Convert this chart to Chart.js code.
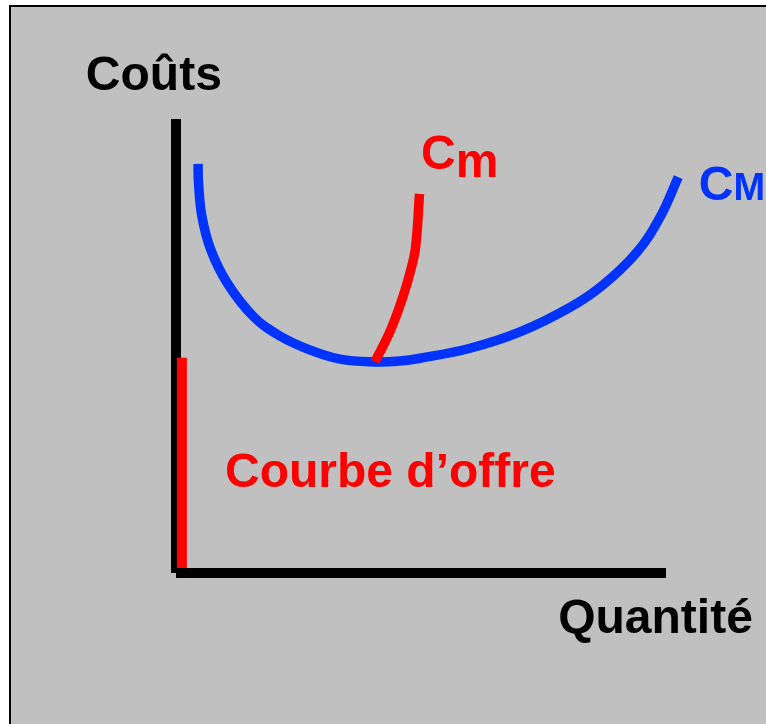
<!DOCTYPE html>
<html>
<head>
<meta charset="utf-8">
<script src="https://cdn.jsdelivr.net/npm/chart.js@4.4.1/dist/chart.umd.min.js"></script>
<style>
  html, body { margin: 0; padding: 0; background: #ffffff; overflow: hidden; }
  #frame {
    position: absolute; left: 9px; top: 5px;
    width: 800px; height: 760px;
    background: #c0c0c0; border: 2px solid #000;
  }
  #wrap { position: absolute; left: 0; top: 0; width: 766px; height: 724px; }
</style>
</head>
<body>
<div id="frame"></div>
<div id="wrap"><canvas id="chart"></canvas></div>

<script>
  // Courbe du coût moyen (CM) : quantité, coût
  const cmQty  = [4.5, 4.6, 5.3, 7.1, 10.5, 15.8, 21.2, 27.4, 33.5, 40.6, 45.7, 49.8, 60.0, 70.2, 80.4, 87.1, 94.1, 98.8, 102.5];
  const cmCost = [90.1, 85.8, 78.5, 71.2, 63.8, 56.5, 52.2, 49.1, 47.1, 46.5, 46.7, 47.3, 49.5, 53.1, 58.5, 63.4, 70.7, 78.4, 87.2];

  // Courbe du coût marginal (Cm)
  const cmgQty  = [40.6, 43.8, 46.3, 47.9, 48.9, 49.7];
  const cmgCost = [46.5, 53.5, 60.8, 66.7, 71.8, 83.5];

  // Courbe d'offre (partie verticale sur l'axe)
  const offreQty  = [1.2, 1.2];
  const offreCost = [47.4, 1.1];

  // Axes
  const axeY = [[0, 100], [0, 0]];
  const axeX = [[0, 0], [100, 0]];

  // Libellés : texte, indice, quantité, coût, couleur
  const labels = [
    { text: "Coûts", sub: "", q: -18.4, c: 106.4, color: "#000000" },
    { text: "Quantité", sub: "", q: 78.0, c: -13.2, color: "#000000" },
    { text: "Courbe d\u2019offre", sub: "", q: 10.0, c: 18.9, color: "#ff0000" },
    { text: "C", sub: "m", q: 50.0, c: 89.0, color: "#ff0000", subDrop: 8, subSize: 48 },
    { text: "C", sub: "M", q: 106.7, c: 82.2, color: "#0033ff", subDrop: 0, subSize: 38 }
  ];

  const toPts = (xs, ys) => xs.map((x, i) => ({ x: x, y: ys[i] }));
  const pairPts = (arr) => arr.map(p => ({ x: p[0], y: p[1] }));

  const labelPlugin = {
    id: "labelPlugin",
    afterDatasetsDraw(chart) {
      const ctx = chart.ctx;
      const xs = chart.scales.x, ys = chart.scales.y;
      ctx.save();
      ctx.textBaseline = "alphabetic";
      ctx.textAlign = "left";
      labels.forEach(l => {
        const px = xs.getPixelForValue(l.q);
        const py = ys.getPixelForValue(l.c);
        ctx.fillStyle = l.color;
        ctx.font = "bold 48px 'Liberation Sans', Arial, sans-serif";
        ctx.fillText(l.text, px, py);
        if (l.sub) {
          const w = ctx.measureText(l.text).width;
          ctx.font = "bold " + l.subSize + "px 'Liberation Sans', Arial, sans-serif";
          ctx.fillText(l.sub, px + w, py + l.subDrop);
        }
      });
      ctx.restore();
    }
  };

  const line = (data, color, width, extra) => Object.assign({
    data: data,
    borderColor: color,
    borderWidth: width,
    pointRadius: 0,
    showLine: true,
    fill: false,
    borderCapStyle: "butt"
  }, extra || {});

  // le premier jeu de données est dessiné par-dessus les autres
  new Chart(document.getElementById("chart").getContext("2d"), {
    type: "scatter",
    data: {
      datasets: [
        line(toPts(cmgQty, cmgCost), "#ff0000", 9.5, { tension: 0.4 }),
        line(toPts(offreQty, offreCost), "#ff0000", 10),
        line(toPts(cmQty, cmCost), "#0033ff", 9.5, { tension: 0.4 }),
        line(pairPts(axeY), "#000000", 10),
        line(pairPts(axeX), "#000000", 10)
      ]
    },
    options: {
      responsive: true,
      maintainAspectRatio: false,
      animation: false,
      layout: { padding: 0 },
      plugins: {
        legend: { display: false },
        tooltip: { enabled: false }
      },
      scales: {
        x: { type: "linear", display: false, min: -35.918, max: 120.408 },
        y: { type: "linear", display: false, min: -33.26, max: 126.211 }
      }
    },
    plugins: [labelPlugin]
  });
</script>
</body>
</html>
